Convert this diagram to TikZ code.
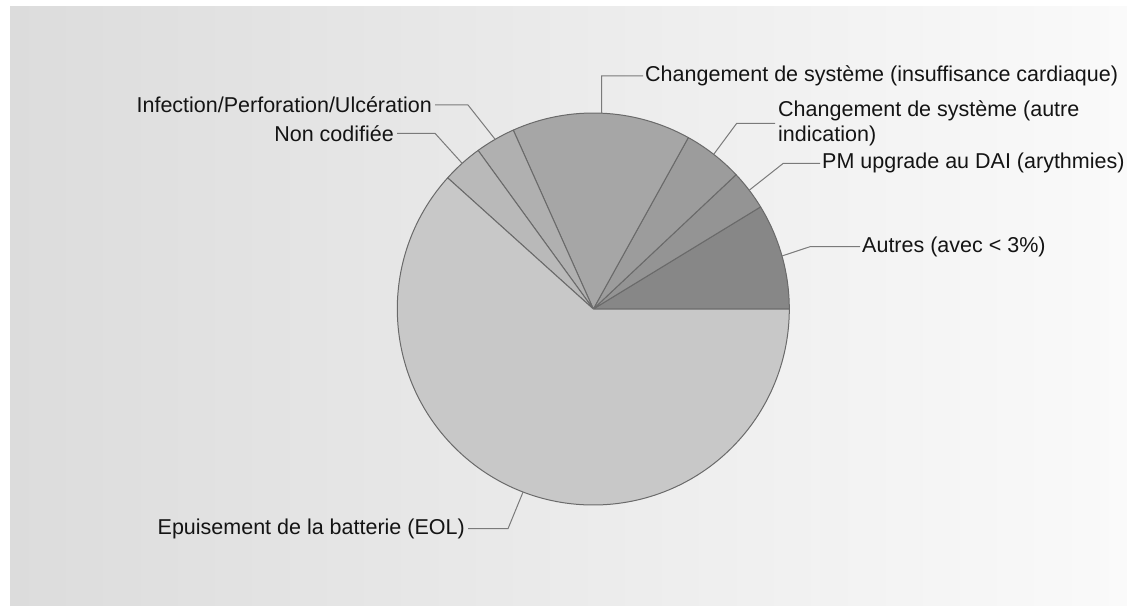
\documentclass[tikz,border=0pt]{standalone}
\usepackage{fontspec}
\setmainfont{Liberation Sans}
\usetikzlibrary{calc}
\definecolor{cA}{HTML}{878787}
\definecolor{cB}{HTML}{949494}
\definecolor{cC}{HTML}{9C9C9C}
\definecolor{cD}{HTML}{A6A6A6}
\definecolor{cE}{HTML}{B0B0B0}
\definecolor{cF}{HTML}{B9B9B9}
\definecolor{cG}{HTML}{C8C8C8}
\definecolor{edge}{HTML}{6A6A6A}
\definecolor{lead}{HTML}{7A7A7A}
\definecolor{txt}{HTML}{141414}
\definecolor{bgL}{HTML}{DCDCDC}
\definecolor{bgR}{HTML}{FAFAFA}
\tikzset{
  slice/.style={draw=edge, line width=1pt, line join=round},
  leader/.style={draw=lead, line width=1pt},
  lbl/.style={inner sep=0pt, text=txt, font=\fontsize{21.5}{25}\selectfont},
}
\begin{document}
\begin{tikzpicture}[x=1pt,y=1pt]
\useasboundingbox (0,0) rectangle (1127,606);
\fill[white] (0,0) rectangle (1127,606);
\shade[left color=bgL, right color=bgR] (10,1) rectangle (1127,599);
\coordinate (C) at (593.3,297);
\def\R{196}
% slices
\filldraw[slice, fill=cA] (C) -- ++(0:\R) arc[start angle=0, end angle=31.4, radius=\R] -- cycle;
\filldraw[slice, fill=cB] (C) -- ++(31.4:\R) arc[start angle=31.4, end angle=43.25, radius=\R] -- cycle;
\filldraw[slice, fill=cC] (C) -- ++(43.25:\R) arc[start angle=43.25, end angle=61, radius=\R] -- cycle;
\filldraw[slice, fill=cD] (C) -- ++(61:\R) arc[start angle=61, end angle=114.1, radius=\R] -- cycle;
\filldraw[slice, fill=cE] (C) -- ++(114.1:\R) arc[start angle=114.1, end angle=126, radius=\R] -- cycle;
\filldraw[slice, fill=cF] (C) -- ++(126:\R) arc[start angle=126, end angle=138, radius=\R] -- cycle;
\filldraw[slice, fill=cG] (C) -- ++(138:\R) arc[start angle=138, end angle=360, radius=\R] -- cycle;
% anchor points on the arc
\path (C) ++(15.7:\R) coordinate (pA);
\path (C) ++(37.3:\R) coordinate (pB);
\path (C) ++(52.1:\R) coordinate (pC);
\path (C) ++(87.55:\R) coordinate (pD);
\path (C) ++(120.05:\R) coordinate (pE);
\path (C) ++(132:\R) coordinate (pF);
\path (C) ++(249:\R) coordinate (pG);
% elbows
\coordinate (kA) at (810,359.3);
\coordinate (kB) at (783.3,442.7);
\coordinate (kC) at (736.7,482.7);
\coordinate (kD) at (601.7,530);
\coordinate (kE) at (468,501);
\coordinate (kF) at (435,472.7);
\coordinate (kG) at (508,77.3);
% labels
\node[lbl, anchor=west] (lA) at (862,359.3) {Autres (avec < 3\%)};
\node[lbl, anchor=west] (lB) at (822,442.7) {PM upgrade au DAI (arythmies)};
\node[lbl, anchor=west, align=left] (lC) at (778,482.7) {Changement de système (autre\\indication)};
\node[lbl, anchor=west] (lD) at (645,530) {Changement de système (insuffisance cardiaque)};
\node[lbl, anchor=east] (lE) at (432,501) {Infection/Perforation/Ulcération};
\node[lbl, anchor=east] (lF) at (394,472.7) {Non codifiée};
\node[lbl, anchor=east] (lG) at (465,77.3) {Epuisement de la batterie (EOL)};
% leaders
\draw[leader] (pA) -- (kA) -- ([xshift=-2pt]lA.west);
\draw[leader] (pB) -- (kB) -- ([xshift=-2pt]lB.west);
\draw[leader] (pC) -- (kC) -- ([xshift=-3pt]lC.west);
\draw[leader] (pD) -- (kD) -- ([xshift=-2pt]lD.west);
\draw[leader] (pE) -- (kE) -- ([xshift=3pt]lE.east);
\draw[leader] (pF) -- (kF) -- ([xshift=3pt]lF.east);
\draw[leader] (pG) -- (kG) -- ([xshift=3pt]lG.east);
\end{tikzpicture}
\end{document}
